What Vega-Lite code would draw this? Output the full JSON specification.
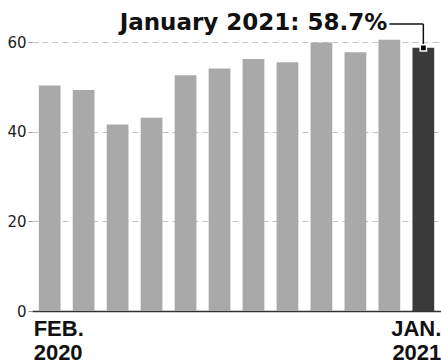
{
  "$schema": "https://vega.github.io/schema/vega-lite/v6.json",
  "width": 409,
  "height": 269,
  "autosize": {"type": "none"},
  "padding": {"left": 32, "top": 42, "right": 0, "bottom": 52},
  "background": "white",
  "config": {"view": {"stroke": null}, "font": "DejaVu Sans"},
  "datasets": {
    "rates": [
      {"month": "Feb 2020", "value": 50.3},
      {"month": "Mar 2020", "value": 49.3},
      {"month": "Apr 2020", "value": 41.6},
      {"month": "May 2020", "value": 43.1},
      {"month": "Jun 2020", "value": 52.6},
      {"month": "Jul 2020", "value": 54.1},
      {"month": "Aug 2020", "value": 56.2},
      {"month": "Sep 2020", "value": 55.5},
      {"month": "Oct 2020", "value": 59.9},
      {"month": "Nov 2020", "value": 57.7},
      {"month": "Dec 2020", "value": 60.5},
      {"month": "Jan 2021", "value": 58.7}
    ],
    "note": [
      {"month": "Jan 2021", "from": "Dec 2020", "value": 58.7, "label": "January 2021: 58.7%"}
    ]
  },
  "layer": [
    {
      "data": {"name": "rates"},
      "mark": {"type": "bar"},
      "encoding": {
        "x": {
          "field": "month",
          "type": "ordinal",
          "sort": null,
          "scale": {"paddingInner": 0.36, "paddingOuter": 0.2},
          "axis": {
            "title": null,
            "domainColor": "#333333",
            "domainWidth": 1.5,
            "ticks": false,
            "labelFont": "Liberation Sans",
            "labelFontWeight": "bold",
            "labelFontSize": 22,
            "labelColor": "#111111",
            "labelAngle": 0,
            "labelLineHeight": 24,
            "labelPadding": 7,
            "labelOverlap": false,
            "labelBound": false,
            "labelFlush": false,
            "labelExpr": "datum.value == 'Feb 2020' ? ['FEB.', '2020'] : (datum.value == 'Jan 2021' ? ['JAN.', '2021'] : '')",
            "labelAlign": {"condition": {"test": "datum.value == 'Feb 2020'", "value": "left"}, "value": "right"},
            "labelOffset": {"condition": {"test": "datum.value == 'Feb 2020'", "value": -16}, "value": 18}
          }
        },
        "y": {
          "field": "value",
          "type": "quantitative",
          "scale": {"domain": [0, 60], "nice": false},
          "axis": {
            "title": null,
            "values": [0, 20, 40, 60],
            "domain": false,
            "tickSize": 4,
            "tickColor": "#999999",
            "labelPadding": 2,
            "labelFont": "DejaVu Sans",
            "labelFontSize": 15,
            "labelColor": "#222222",
            "gridDash": [6, 4],
            "gridColor": "#c4c4c4"
          }
        },
        "color": {"condition": {"test": "datum.month == 'Jan 2021'", "value": "#3a3a3a"}, "value": "#a9a9a9"}
      }
    },
    {
      "data": {"name": "note"},
      "mark": {"type": "rule", "color": "#111111", "strokeWidth": 1.5},
      "encoding": {
        "x": {"field": "from", "type": "ordinal", "sort": null},
        "x2": {"field": "month"},
        "y": {"datum": 64.0, "type": "quantitative"}
      }
    },
    {
      "data": {"name": "note"},
      "mark": {"type": "rule", "color": "#111111", "strokeWidth": 1.5},
      "encoding": {
        "x": {"field": "month", "type": "ordinal", "sort": null},
        "y": {"datum": 64.0, "type": "quantitative"},
        "y2": {"datum": 59.5}
      }
    },
    {
      "data": {"name": "note"},
      "mark": {"type": "point", "shape": "square", "filled": true, "size": 40, "color": "#000000", "stroke": "#ffffff", "strokeWidth": 1.5, "opacity": 1},
      "encoding": {
        "x": {"field": "month", "type": "ordinal", "sort": null},
        "y": {"field": "value", "type": "quantitative"}
      }
    },
    {
      "data": {"name": "note"},
      "mark": {"type": "text", "align": "right", "baseline": "alphabetic", "dx": -2, "font": "DejaVu Sans", "fontWeight": "bold", "fontSize": 23, "color": "#111111"},
      "encoding": {
        "x": {"field": "from", "type": "ordinal", "sort": null},
        "y": {"datum": 62.7, "type": "quantitative"},
        "text": {"field": "label"}
      }
    }
  ]
}
